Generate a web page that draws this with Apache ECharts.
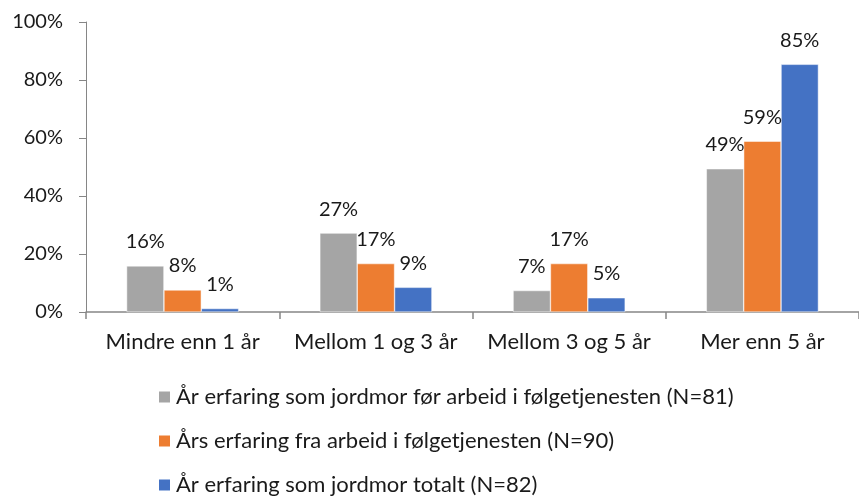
<!DOCTYPE html>
<html>
<head>
<meta charset="utf-8">
<script src="https://cdn.jsdelivr.net/npm/echarts@6/dist/echarts.min.js"></script>
<style>
  html, body { margin: 0; padding: 0; background: #fff; }
  #chart { width: 859px; height: 498px; }
</style>
</head>
<body>
<div id="chart"></div>
<script>
// kategorier og verdier (prosent)
var categories = ['Mindre enn 1 år', 'Mellom 1 og 3 år', 'Mellom 3 og 5 år', 'Mer enn 5 år'];
var seriesNames = [
  'År erfaring som jordmor før arbeid i følgetjenesten (N=81)',
  'Års erfaring fra arbeid i følgetjenesten (N=90)',
  'År erfaring som jordmor totalt (N=82)'
];
var forArbeid = [15.9, 27.2, 7.4, 49.4];
var iTjenesten = [7.6, 16.7, 16.7, 58.9];
var totalt = [1.2, 8.5, 4.9, 85.4];
var colors = ['#A5A5A5', '#ED7D31', '#4472C4'];

var font = 'Lato, "Open Sans", sans-serif';
var numSize = 20;   // tall
var textSize = 22;  // tekst
var chart = echarts.init(document.getElementById('chart'));

function makeSeries(name, data, color) {
  return {
    name: name,
    type: 'bar',
    data: data,
    barGap: '0%',
    barCategoryGap: '42%',
    itemStyle: { color: color, borderColor: '#fff', borderWidth: 0.5 },
    label: {
      show: true,
      position: 'top',
      distance: 14,
      color: '#1a1a1a',
      fontFamily: font,
      fontSize: numSize,
      formatter: function (p) { return Math.round(p.value) + '%'; }
    }
  };
}

chart.setOption({
  animation: false,
  color: colors,
  grid: { left: 86, right: -11, top: 22, bottom: 186, containLabel: false },
  legend: {
    orient: 'vertical',
    left: 157,
    top: 386,
    padding: 0,
    itemWidth: 13,
    itemHeight: 13,
    itemGap: 22,
    icon: 'rect',
    textStyle: { fontFamily: font, fontSize: textSize, lineHeight: 22, color: '#1a1a1a' },
    data: seriesNames
  },
  xAxis: {
    type: 'category',
    data: categories,
    axisLine: { lineStyle: { color: '#868686', width: 1.5 } },
    axisTick: { show: true, interval: 0, length: 7, lineStyle: { color: '#868686', width: 1.5 } },
    axisLabel: { interval: 0, fontFamily: font, fontSize: textSize, color: '#1a1a1a', margin: 19 }
  },
  yAxis: {
    type: 'value',
    min: 0,
    max: 100,
    interval: 20,
    axisLine: { show: true, lineStyle: { color: '#868686', width: 1 } },
    axisTick: { show: true, length: 7, lineStyle: { color: '#868686' } },
    splitLine: { show: false },
    axisLabel: {
      fontFamily: font, fontSize: numSize, color: '#1a1a1a', margin: 23,
      formatter: '{value}%'
    }
  },
  series: [
    makeSeries(seriesNames[0], forArbeid, colors[0]),
    makeSeries(seriesNames[1], iTjenesten, colors[1]),
    makeSeries(seriesNames[2], totalt, colors[2])
  ]
});
</script>
</body>
</html>
